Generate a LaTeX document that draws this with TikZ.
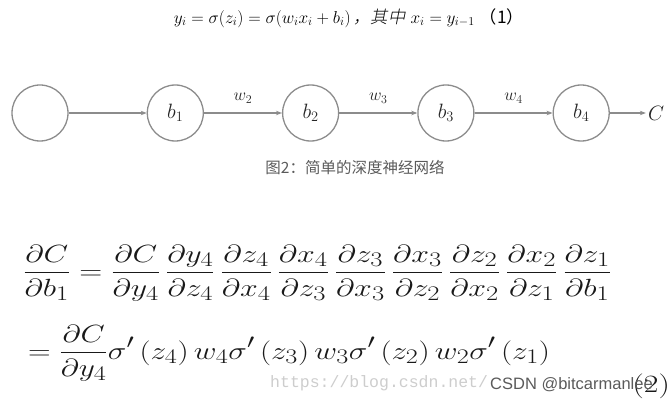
\documentclass[tikz,border=0pt]{standalone}
\usepackage{amsmath}
\usepackage{fontspec}
\newfontfamily\cjkfont{Noto Sans CJK SC}
\newfontfamily\cjkslant[FakeSlant=0.2]{Noto Sans CJK SC Light}
\newfontfamily\markfont{Liberation Sans}
\setmonofont{Liberation Mono}
\usetikzlibrary{positioning,arrows.meta}

\definecolor{linegray}{HTML}{8C8C8C}
\definecolor{captiongray}{HTML}{5A5A5A}
\definecolor{markgray}{HTML}{CDCDCD}

\tikzset{
  neuron/.style={circle, draw=linegray, line width=1.3pt, minimum size=56pt,
    inner sep=0pt, text=black!85, font=\fontsize{20.74}{20.74}\selectfont},
  link/.style={draw=linegray, line width=1.3pt, -{Stealth[length=6pt,width=4.5pt]}},
  weight/.style={midway, yshift=15pt, text=black!85, font=\fontsize{17.28}{17.28}\selectfont},
  bigeq/.style={anchor=base west, inner sep=0pt, text=black!90, font=\fontsize{24.88}{24.88}\selectfont},
}

\begin{document}
\begin{tikzpicture}[x=1pt, y=-1pt, node distance=78pt]
\useasboundingbox (0,0) rectangle (671,403);

% formula (1)
\node[font=\fontsize{17.28}{17.28}\selectfont] (eqone) at (349,18)
  {$y_i=\sigma(z_i)=\sigma(w_ix_i+b_i)$\,{\cjkslant，其中}\ $x_i=y_{i-1}$\ {\cjkfont（1）}};

% the chain of neurons
\node[neuron] (n0) at (40,113) {};
\node[neuron, right=of n0] (b1) {$b_1$};
\node[neuron, right=of b1] (b2) {$b_2$};
\node[neuron, right=of b2] (b3) {$b_3$};
\node[neuron, right=of b3] (b4) {$b_4$};
\node[right=36pt of b4, inner sep=2pt, text=black!85, font=\fontsize{20.74}{20.74}\selectfont] (cost) {$C$};

\draw[link] (n0) -- (b1);
\draw[link] (b1) -- node[weight] {$w_2$} (b2);
\draw[link] (b2) -- node[weight] {$w_3$} (b3);
\draw[link] (b3) -- node[weight] {$w_4$} (b4);
\draw[link] (b4) -- (cost);

\node[text=captiongray, font=\cjkfont\fontsize{15.5}{15.5}\selectfont] (caption) at (355,168)
  {图2：简单的深度神经网络};

% formula (2)
\node[bigeq] (eqtwoa) at (23,279) {\scalebox{1.28}[1]{$\displaystyle
  \frac{\partial C}{\partial b_1}=\frac{\partial C}{\partial y_4}\,\frac{\partial y_4}{\partial z_4}\,
  \frac{\partial z_4}{\partial x_4}\,\frac{\partial x_4}{\partial z_3}\,\frac{\partial z_3}{\partial x_3}\,
  \frac{\partial x_3}{\partial z_2}\,\frac{\partial z_2}{\partial x_2}\,\frac{\partial x_2}{\partial z_1}\,
  \frac{\partial z_1}{\partial b_1}$}};
\node[bigeq] (eqtwob) at (28,359) {\scalebox{1.26}[1]{$\displaystyle
  =\frac{\partial C}{\partial y_4}\sigma'\left(z_4\right)w_4\sigma'\left(z_3\right)w_3
  \sigma'\left(z_2\right)w_2\sigma'\left(z_1\right)$}};

\node[text=markgray, font=\ttfamily\fontsize{16.5}{16.5}\selectfont, anchor=west, inner sep=0pt] (url) at (270,383)
  {https://blog.csdn.net/};
\node[bigeq, anchor=base east] (tagtwo) at (670,392) {\scalebox{1.28}[1]{(2)}};
\node[text=captiongray, font=\markfont\fontsize{16.5}{16.5}\selectfont, anchor=west, inner sep=0pt] (mark) at (490,385)
  {CSDN @bitcarmanlee};
\end{tikzpicture}
\end{document}
